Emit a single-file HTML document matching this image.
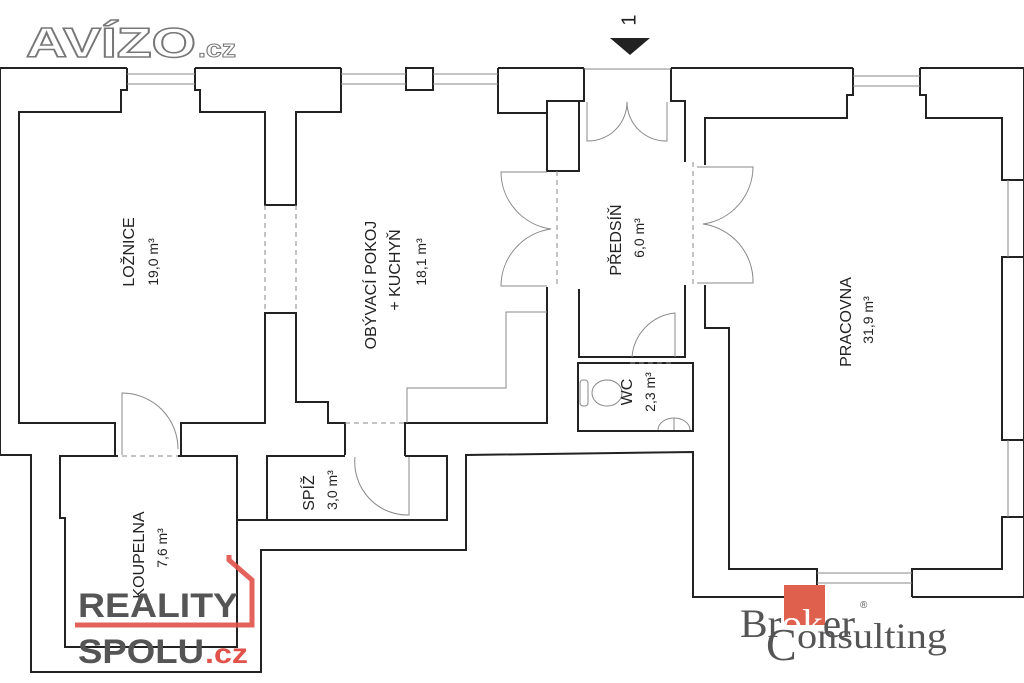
<!DOCTYPE html>
<html><head><meta charset="utf-8"><style>
html,body{margin:0;padding:0;background:#fff;}
svg{display:block;}
.s{font-family:"Liberation Sans",sans-serif;}
.r{font-family:"Liberation Serif",serif;}
</style></head><body>
<svg width="1024" height="683" viewBox="0 0 1024 683" xmlns="http://www.w3.org/2000/svg">
<rect width="1024" height="683" fill="#fff"/>
<g fill="none" stroke="#222" stroke-width="2">
<polyline points="127,68 0,68 0,455 31,455 31,672 261,672 261,550 466,550 466,455 693,452 693,597 817,597"/>
<polyline points="912,597 1024,597 1024,68 920,68"/>
<polyline points="195,68 341,68"/>
<polyline points="498,68 584,68"/>
<polyline points="671,68 853,68"/>
<rect x="406" y="68" width="27" height="22"/>
<polyline points="127,68 127,90 121,90 121,112 19,112 19,423 115,423 115,456"/>
<polyline points="195,68 195,90 200,90 200,112 265,112 265,205 296,205 296,112 341,112 341,68"/>
<polyline points="181,456 181,423 265,423 265,313 296,313 296,402 328,402 328,423 345,423 345,455"/>
<polyline points="498,68 498,113 547,113"/>
<polyline points="584,68 584,101 579,101 579,171 547,171 547,101 579,101"/>
<polyline points="547,287 547,423 405,423 405,456"/>
<polyline points="579,289 579,357 685,357 685,285"/>
<polyline points="685,162 685,101 671,101 671,68"/>
<rect x="578" y="363" width="115" height="68"/>
<polyline points="705,165 705,118 847,118 847,95 853,95 853,68"/>
<polyline points="920,68 920,95 926,95 926,118 1002,118 1002,180 1024,180"/>
<polyline points="1024,257 1002,257 1002,440 1024,440"/>
<polyline points="1024,517 1002,517 1002,569 912,569 912,597"/>
<polyline points="817,597 817,569 729,569 729,328 705,328 705,285"/>
<polyline points="118,456 60,456 60,518 65,518 65,647 237,647 237,456 178,456"/>
<polyline points="237,520 447,520 447,456 405,456"/>
<polyline points="345,456 267,456 267,520"/>
</g>
<g fill="none" stroke="#888" stroke-width="1">
<line x1="127" y1="74" x2="195" y2="74"/><line x1="127" y1="84" x2="195" y2="84"/>
<line x1="341" y1="74" x2="406" y2="74"/><line x1="341" y1="84" x2="406" y2="84"/>
<line x1="433" y1="74" x2="498" y2="74"/><line x1="433" y1="84" x2="498" y2="84"/>
<line x1="853" y1="76" x2="920" y2="76"/><line x1="853" y1="86" x2="920" y2="86"/>
<line x1="817" y1="573" x2="912" y2="573"/><line x1="817" y1="583" x2="912" y2="583"/>
<line x1="1008" y1="180" x2="1008" y2="257"/><line x1="1008" y1="440" x2="1008" y2="517"/>
<line x1="584" y1="69" x2="671" y2="69"/>
<line x1="265" y1="205" x2="265" y2="313" stroke-dasharray="5,4"/>
<line x1="296" y1="205" x2="296" y2="313" stroke-dasharray="5,4"/>
<line x1="557" y1="171" x2="557" y2="287" stroke-dasharray="5,4"/>
<line x1="693" y1="162" x2="693" y2="285" stroke-dasharray="5,4"/>
<line x1="345" y1="423" x2="405" y2="423" stroke-dasharray="5,4"/>
<line x1="122" y1="456" x2="178" y2="456" stroke-dasharray="5,4"/>
<line x1="630" y1="363" x2="675" y2="363" stroke-dasharray="5,4"/>
<polyline points="547,312 506,312 506,388 407,388 407,423"/>
<path d="M587,102 V141 A39,39 0 0 0 627,102"/>
<path d="M667,102 V141 A39,39 0 0 1 627,102"/>
<path d="M547,172 H501 A58,58 0 0 0 551,229"/>
<path d="M547,286 H501 A58,58 0 0 1 551,229"/>
<path d="M697,167 H753 A58,58 0 0 1 703,224"/>
<path d="M697,283 H753 A58,58 0 0 0 703,224"/>
<path d="M122,455 V393 A56,56 0 0 1 178,449"/>
<path d="M632,357 A48,48 0 0 1 675,313 V357"/>
<path d="M355,457 A53,53 0 0 0 409,515 V457"/>
<rect x="580" y="380" width="8" height="26" rx="3"/>
<ellipse cx="607" cy="393" rx="15" ry="13"/>
<path d="M658,430 A16,12 0 1 1 690,430"/>
<line x1="674" y1="418" x2="674" y2="430"/>
</g>
<polygon points="610,38 650,38 630,55" fill="#222"/>
<text class="s" x="630" y="20" font-size="20" transform="rotate(-90 630 20)" text-anchor="middle" fill="#222" dominant-baseline="middle">1</text>
<g class="s" fill="#222" font-size="16" text-anchor="middle">
<text transform="translate(134,252) rotate(-90)">LOŽNICE</text>
<text transform="translate(158,262) rotate(-90)" font-size="14">19,0 m³</text>
<text transform="translate(376,285) rotate(-90)">OBÝVACÍ POKOJ</text>
<text transform="translate(400,270) rotate(-90)">+ KUCHYŇ</text>
<text transform="translate(426,262) rotate(-90)" font-size="14">18,1 m³</text>
<text transform="translate(621,240) rotate(-90)">PŘEDSÍŇ</text>
<text transform="translate(644,238) rotate(-90)" font-size="14">6,0 m³</text>
<text transform="translate(851,322) rotate(-90)">PRACOVNA</text>
<text transform="translate(873,320) rotate(-90)" font-size="14">31,9 m³</text>
<text transform="translate(632,392) rotate(-90)">WC</text>
<text transform="translate(655,392) rotate(-90)" font-size="14">2,3 m³</text>
<text transform="translate(144,555) rotate(-90)">KOUPELNA</text>
<text transform="translate(167,548) rotate(-90)" font-size="14">7,6 m³</text>
<text transform="translate(314,493) rotate(-90)">SPÍŽ</text>
<text transform="translate(337,490) rotate(-90)" font-size="14">3,0 m³</text>
</g>
<text class="s" x="26" y="57" font-size="42" font-weight="bold" fill="#fff" stroke="#777" stroke-width="1.5" textLength="170" lengthAdjust="spacingAndGlyphs">AVÍZO</text>
<text class="s" x="198" y="57" font-size="24" font-weight="bold" fill="#fff" stroke="#777" stroke-width="1" textLength="38" lengthAdjust="spacingAndGlyphs">.cz</text>
<polyline points="229,555 229,560 252,580 252,625 75,625" fill="none" stroke="#e0524a" stroke-width="5" opacity="0.9"/>
<text class="s" x="78" y="617" font-size="34" font-weight="bold" fill="#555" textLength="160" lengthAdjust="spacingAndGlyphs">REALITY</text>
<text class="s" x="78" y="663" font-size="34" font-weight="bold" fill="#555" textLength="126" lengthAdjust="spacingAndGlyphs">SPOLU</text>
<text class="s" x="205" y="663" font-size="28" font-weight="bold" fill="#e0524a" textLength="43" lengthAdjust="spacingAndGlyphs">.cz</text>
<rect x="784" y="585" width="41" height="40" fill="#e0604e"/>
<text class="r" x="740" y="637" font-size="40" fill="#555" textLength="115" lengthAdjust="spacingAndGlyphs">Br<tspan fill="#fff">ok</tspan>er</text>
<text class="s" x="860" y="608" font-size="10" fill="#555">®</text>
<text class="r" x="766" y="660" font-size="46" fill="#555">C</text>
<text class="r" x="797" y="648" font-size="36" fill="#555" textLength="150" lengthAdjust="spacingAndGlyphs">onsulting</text>
</svg>
</body></html>
